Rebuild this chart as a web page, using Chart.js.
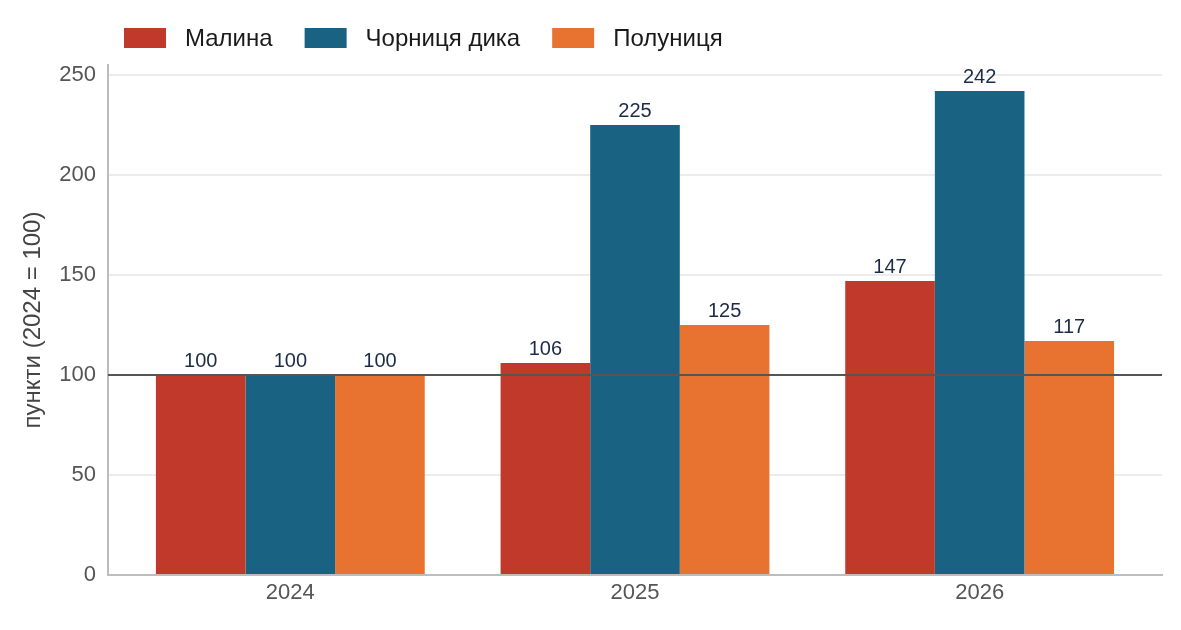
<!DOCTYPE html>
<html>
<head>
<meta charset="utf-8">
<script src="https://cdn.jsdelivr.net/npm/chart.js@4/dist/chart.umd.min.js"></script>
<style>
  html, body { margin: 0; padding: 0; background: #ffffff; }
  #wrap { width: 1181px; height: 630px; position: relative; }
</style>
</head>
<body>
<div id="wrap"><canvas id="c" width="1181" height="630"></canvas></div>
<script>
const categories = ['2024', '2025', '2026'];
const seriesNames = ['Малина', 'Чорниця дика', 'Полуниця'];
const malina = [100, 106, 147];
const chornytsia = [100, 225, 242];
const polunytsia = [100, 125, 117];
const yTicks = [0, 50, 100, 150, 200, 250];
const yTitle = 'пункти (2024 = 100)';
const baseLine = 100;

const colors = ['#c0392b', '#1a6282', '#e87331'];
const FONT = "'Liberation Sans', Arial, sans-serif";

function toPoints(arr) { return arr.map((v, i) => ({ x: i, y: v })); }

const legendPlugin = {
  id: 'customLegend',
  afterDraw(chart) {
    const ctx = chart.ctx;
    ctx.save();
    ctx.font = '24px ' + FONT;
    ctx.textBaseline = 'middle';
    ctx.textAlign = 'left';
    let x = 124;
    const cy = 38;
    chart.data.datasets.forEach((ds) => {
      ctx.fillStyle = ds.backgroundColor;
      ctx.fillRect(x, cy - 10, 42, 20);
      const tx = x + 42 + 19;
      ctx.fillStyle = '#1a1a1a';
      ctx.fillText(ds.label, tx, cy + 1);
      x = tx + ctx.measureText(ds.label).width + 32;
    });
    ctx.restore();
  }
};

const refLinePlugin = {
  id: 'refLine',
  afterDatasetsDraw(chart) {
    const ctx = chart.ctx;
    const y = chart.scales.y.getPixelForValue(baseLine);
    const a = chart.chartArea;
    ctx.save();
    ctx.strokeStyle = '#555555';
    ctx.lineWidth = 2;
    ctx.beginPath();
    ctx.moveTo(a.left, y);
    ctx.lineTo(a.right, y);
    ctx.stroke();
    // data labels
    ctx.font = '20px ' + FONT;
    ctx.fillStyle = '#1c2c44';
    ctx.textAlign = 'center';
    ctx.textBaseline = 'alphabetic';
    chart.data.datasets.forEach((ds, di) => {
      const meta = chart.getDatasetMeta(di);
      meta.data.forEach((bar, i) => {
        ctx.fillText(String(ds.data[i].y), bar.x, bar.y - 8);
      });
    });
    ctx.restore();
  }
};

new Chart(document.getElementById('c'), {
  type: 'bar',
  data: {
    datasets: [
      { label: seriesNames[0], data: toPoints(malina), backgroundColor: colors[0] },
      { label: seriesNames[1], data: toPoints(chornytsia), backgroundColor: colors[1] },
      { label: seriesNames[2], data: toPoints(polunytsia), backgroundColor: colors[2] }
    ]
  },
  options: {
    responsive: false,
    animation: false,
    devicePixelRatio: 1,
    layout: { padding: { top: 65, right: 19, left: 0, bottom: 0 } },
    datasets: { bar: { categoryPercentage: 0.78, barPercentage: 1.0, borderWidth: 0 } },
    plugins: {
      legend: { display: false },
      tooltip: { enabled: false }
    },
    scales: {
      x: {
        type: 'linear',
        offset: false,
        min: -0.529,
        max: 2.529,
        afterFit(s) { s.height = 55; },
        afterBuildTicks(s) { s.ticks = categories.map((c, i) => ({ value: i })); },
        ticks: {
          stepSize: 1,
          includeBounds: false,
          autoSkip: false,
          maxRotation: 0,
          padding: 5,
          color: '#555555',
          font: { family: FONT, size: 22 },
          callback: (v) => categories[v]
        },
        grid: { display: false, drawTicks: false },
        border: { display: true, color: '#bdbdbd', width: 2 }
      },
      y: {
        min: 0,
        max: 255,
        afterFit(s) { s.width = 108; },
        afterBuildTicks(s) { s.ticks = yTicks.map(v => ({ value: v })); },
        ticks: {
          stepSize: 50,
          includeBounds: false,
          padding: 12,
          color: '#555555',
          font: { family: FONT, size: 22 }
        },
        grid: { color: '#ececec', lineWidth: 2, drawTicks: false },
        border: { display: true, color: '#bdbdbd', width: 2 },
        title: {
          display: true,
          text: yTitle,
          color: '#444444',
          font: { family: FONT, size: 24 },
          padding: { top: 19, bottom: 0 }
        }
      }
    }
  },
  plugins: [legendPlugin, refLinePlugin]
});
</script>
</body>
</html>
